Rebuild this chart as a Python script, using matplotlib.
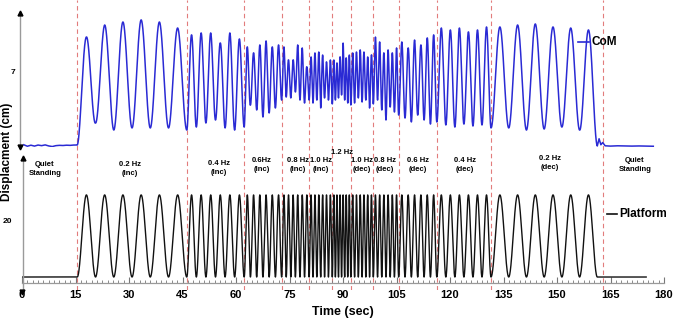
import numpy as np
import matplotlib
matplotlib.use("Agg")
import matplotlib.pyplot as plt
from matplotlib.lines import Line2D

W, H = 675, 323
plt.rcParams["font.family"] = ["Liberation Sans", "DejaVu Sans"]
plt.rcParams["font.weight"] = "bold"

C_COM = "#2a2ad4"
C_PLAT = "#111111"
C_DASH = "#e27c7c"
C_AXIS = "#9a9a9a"

# protocol: segment edges (s), label, cycles in each segment
seg_edges = [15.5, 46.2, 62.3, 72.8, 80.5, 87.0, 92.2, 98.5, 105.6, 116.3, 131.5, 161.3]
seg_labels = ["0.2 Hz\n(inc)", "0.4 Hz\n(inc)", "0.6Hz\n(inc)", "0.8 Hz\n(inc)", "1.0 Hz\n(inc)",
              "1.2 Hz", "1.0 Hz\n(dec)", "0.8 Hz\n(dec)", "0.6 Hz\n(dec)", "0.4 Hz\n(dec)", "0.2 Hz\n(dec)"]
seg_cycles = [6, 6, 6, 6, 6, 6, 6, 6, 6, 6, 6]
dash_x = [15.4, 46.2, 62.3, 72.8, 80.5, 87.0, 92.2, 98.5, 105.6, 116.3, 131.5, 163.0]

# platform displacement (cm)
plat_peak = 28.8
plat_end = 175.0

# CoM (cm): peak of every cycle, read segment by segment
com_peak = [9.33, 10.13, 10.33, 10.47, 10.33, 9.93,   # 0.2 inc
            9.47, 9.60, 9.60, 8.93, 9.60, 9.20,       # 0.4 inc
            8.67, 8.27, 8.80, 9.07, 8.67, 8.80,       # 0.6 inc
            8.67, 7.80, 7.80, 8.80, 8.60, 7.33,       # 0.8 inc
            8.00, 8.27, 8.33, 8.13, 7.67, 7.80,       # 1.0 inc
            7.80, 7.60, 8.00, 8.93, 7.93, 8.13,       # 1.2
            8.27, 8.33, 8.47, 8.33, 8.00, 8.13,       # 1.0 dec
            9.33, 9.00, 8.27, 8.47, 8.27, 8.60,       # 0.8 dec
            9.00, 8.60, 9.13, 8.80, 9.27, 9.47,       # 0.6 dec
            9.93, 9.80, 9.93, 9.67, 9.80, 10.00,      # 0.4 dec
            10.00, 10.13, 10.20, 10.00, 9.93, 9.80]   # 0.2 dec
# trough before the first cycle and after every cycle
com_trough = [2.13,
              3.60, 3.13, 3.27, 3.27, 3.27, 3.13,
              3.33, 3.60, 3.80, 3.27, 3.13, 3.33,
              4.80, 4.47, 4.00, 4.27, 4.60, 5.13,
              5.33, 5.27, 5.67, 5.13, 4.93, 5.13,
              4.93, 5.13, 4.60, 5.27, 5.13, 4.87,
              5.13, 5.27, 5.47, 5.13, 4.93, 4.80,
              4.93, 5.27, 5.00, 5.13, 4.60, 4.87,
              5.13, 4.47, 3.80, 4.67, 4.33, 4.13,
              3.93, 3.67, 4.13, 3.80, 3.53, 3.67,
              3.47, 3.33, 3.53, 3.40, 3.47, 3.27,
              3.27, 3.13, 3.20, 3.33, 3.13, 2.07]
# quiet standing samples
quiet1_t = [0.5, 1.5, 2.5, 3.5, 4.5, 5.5, 6.5, 7.5, 8.5, 9.5, 10.5, 11.5, 12.5, 13.5, 14.5, 15.5]
quiet1_v = [2.15, 2.05, 2.12, 2.06, 2.13, 2.09, 2.14, 2.07, 2.03, 2.09, 2.11, 2.10, 2.12, 2.11, 2.13, 2.13]
quiet2_t = [161.3, 161.8, 162.3, 162.8, 163.5, 165, 167, 169, 171, 173, 175, 177]
quiet2_v = [2.07, 2.55, 2.15, 2.30, 2.08, 2.06, 2.08, 2.07, 2.06, 2.07, 2.06, 2.05]

# phase runs linearly through each segment (cycles per segment fixed)
cum_cyc = np.concatenate([[0], np.cumsum(seg_cycles)])
t_osc = np.linspace(seg_edges[0], seg_edges[-1], 9000)
cyc = np.interp(t_osc, seg_edges, cum_cyc)
wave = (1 - np.cos(2 * np.pi * cyc)) / 2

n = len(com_peak)
hi = np.interp(cyc, np.arange(n) + 0.5, com_peak)
lo = np.interp(cyc, np.arange(n + 1), com_trough)
com_osc = lo + (hi - lo) * wave

com_t = np.concatenate([quiet1_t[:-1], t_osc, quiet2_t[1:]])
com_v = np.concatenate([quiet1_v[:-1], com_osc, quiet2_v[1:]])

plat_t = np.concatenate([[0.2], t_osc, [plat_end]])
plat_v = np.concatenate([[0], plat_peak * wave, [0]])

fig = plt.figure(figsize=(W / 100, H / 100), dpi=100)


def box(x0, y0, x1, y1):
    return [x0 / W, 1 - y1 / H, (x1 - x0) / W, (y1 - y0) / H]


X0, X1 = 22, 664
bg = fig.add_axes(box(X0, 0, X1, 290))
bg.set_xlim(0, 180)
bg.set_ylim(0, 1)
bg.axis("off")
for x in dash_x:
    bg.axvline(x, color=C_DASH, lw=0.8, ls=(0, (4, 3)))

ax1 = fig.add_axes(box(X0, 13, X1, 147))
ax2 = fig.add_axes(box(X0, 158, X1, 283))
for ax in (ax1, ax2):
    ax.patch.set_alpha(0)
    ax.set_xlim(0, 180)
    for s in ("top", "right", "left", "bottom"):
        ax.spines[s].set_visible(False)

ax1.set_ylim(2.0, 10.93)
ax1.plot(com_t, com_v, color=C_COM, lw=1.1)
ax1.set_xticks([])
ax1.set_yticks([7])
ax1.set_yticklabels(["7"], fontsize=6, fontweight="bold")
ax1.tick_params(axis="y", length=0, pad=5)
ax1.plot([-0.6, -0.6], [2.0, 10.93], color=C_AXIS, lw=1, clip_on=False)
ax1.plot(-0.6, 10.93, marker="^", ms=3.5, color="k", clip_on=False)
ax1.plot(-0.6, 2.0, marker="v", ms=3.5, color="k", clip_on=False)

ax2.set_ylim(-2.1, 41.75)
ax2.plot(plat_t, plat_v, color=C_PLAT, lw=1.0)
ax2.spines["bottom"].set_visible(True)
ax2.spines["bottom"].set_color(C_AXIS)
ax2.spines["bottom"].set_linewidth(0.9)
ax2.set_xticks(np.arange(0, 181, 15))
ax2.set_xticks(np.arange(0, 180.1, 1.5), minor=True)
ax2.set_xticklabels([str(v) for v in range(0, 181, 15)], fontsize=8, fontweight="bold")
ax2.tick_params(axis="x", which="major", direction="in", length=4, color="#777777", pad=5)
ax2.tick_params(axis="x", which="minor", direction="in", length=2, color="#777777")
ax2.set_yticks([20])
ax2.set_yticklabels(["20"], fontsize=6, fontweight="bold")
ax2.tick_params(axis="y", length=0, pad=7)
ax2.plot([0.3, 0.3], [-5.2, 41.75], color=C_AXIS, lw=1, clip_on=False)
ax2.plot(0.3, 41.75, marker="^", ms=3.5, color="k", clip_on=False)
ax2.plot(0.0, -5.2, marker="v", ms=3.5, color="k", clip_on=False)

# segment labels (pixel positions)
lbl_pos = [(130, 169), (219, 168), (262, 165), (298, 165), (321, 165), (342, 153),
           (362, 165), (385, 165), (418, 165), (465, 165), (550, 163)]
for txt, (px, py) in zip(seg_labels, lbl_pos):
    fig.text(px / W, 1 - py / H, txt, ha="center", va="center", fontsize=5.5,
             fontweight="bold", linespacing=1.5)
for px, py in ((45, 169), (635, 165)):
    fig.text(px / W, 1 - py / H, "Quiet\nStanding", ha="center", va="center", fontsize=5.5,
             fontweight="bold", linespacing=1.5)

fig.text(7 / W, 1 - 152 / H, "Displacment (cm)", rotation=90, ha="center", va="center",
         fontsize=8.5, fontweight="bold")
fig.text(343 / W, 1 - 312 / H, "Time (sec)", ha="center", va="center", fontsize=9,
         fontweight="bold")

fig.add_artist(Line2D([578 / W, 589 / W], [1 - 42 / H] * 2, color=C_COM, lw=1.2))
fig.text(591 / W, 1 - 42 / H, "CoM", va="center", fontsize=8.5, fontweight="bold")
fig.add_artist(Line2D([607 / W, 617 / W], [1 - 214 / H] * 2, color=C_PLAT, lw=1.2))
fig.text(619 / W, 1 - 214 / H, "Platform", va="center", fontsize=8.5, fontweight="bold")

fig.savefig("out.png", dpi=100)
